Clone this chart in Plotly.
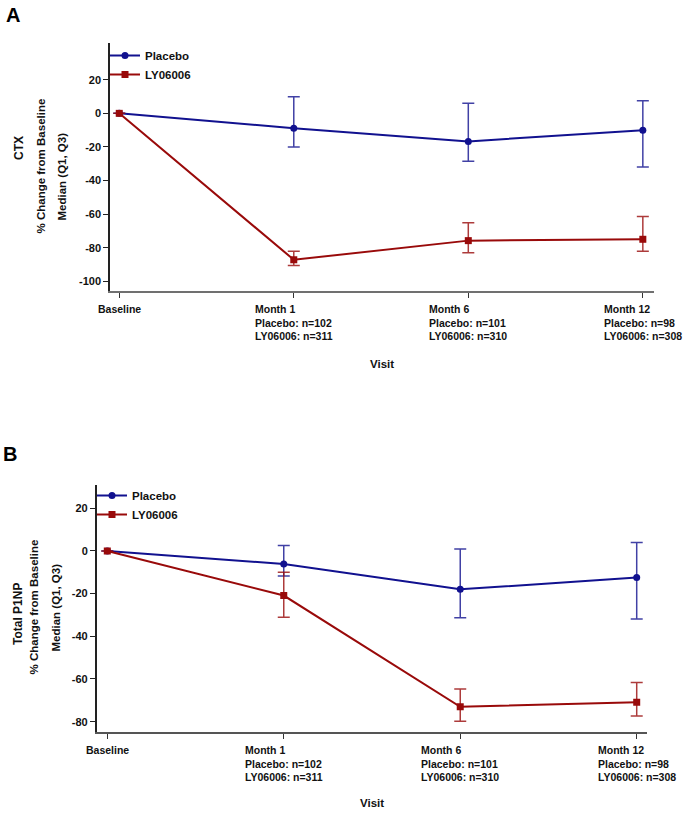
import plotly.graph_objects as go

# ---------------- data ----------------
visits = ["Baseline", "Month 1", "Month 6", "Month 12"]
placebo_n = [None, 102, 101, 98]
ly_n = [None, 311, 310, 308]

ctx_placebo_median = [0, -8.8, -16.7, -10.0]
ctx_placebo_q1 = [None, -20.1, -28.5, -31.9]
ctx_placebo_q3 = [None, 9.9, 6.0, 7.5]
ctx_ly_median = [0, -87.2, -75.8, -75.0]
ctx_ly_q1 = [None, -90.6, -83.0, -82.2]
ctx_ly_q3 = [None, -82.2, -65.1, -61.5]

p1np_placebo_median = [0, -6.1, -18.0, -12.5]
p1np_placebo_q1 = [None, -11.7, -31.3, -31.9]
p1np_placebo_q3 = [None, 2.5, 0.9, 3.9]
p1np_ly_median = [0, -20.9, -73.0, -70.9]
p1np_ly_q1 = [None, -31.1, -79.8, -77.4]
p1np_ly_q3 = [None, -10.0, -64.7, -61.6]

ctx_ticks = [-100, -80, -60, -40, -20, 0, 20]
p1np_ticks = [-80, -60, -40, -20, 0, 20]

# ---------------- style ----------------
W, H = 688, 814
FONT = "Liberation Sans"
BLUE = "#11118f"
RED = "#990a0a"
BLUE_E = "rgba(17,17,143,0.8)"
RED_E = "rgba(153,10,10,0.8)"


def px(x):
    return x / W


def py(y):
    return 1 - y / H


def errs(med, q1, q3):
    plus = [None if b is None else b - m for m, b in zip(med, q3)]
    minus = [None if a is None else m - a for m, a in zip(med, q1)]
    return plus, minus


fig = go.Figure()

panels = [
    dict(xa="x", ya="y", leg="legend",
         data=[("Placebo", ctx_placebo_median, ctx_placebo_q1, ctx_placebo_q3, BLUE, BLUE_E, "circle"),
               ("LY06006", ctx_ly_median, ctx_ly_q1, ctx_ly_q3, RED, RED_E, "square")]),
    dict(xa="x2", ya="y2", leg="legend2",
         data=[("Placebo", p1np_placebo_median, p1np_placebo_q1, p1np_placebo_q3, BLUE, BLUE_E, "circle"),
               ("LY06006", p1np_ly_median, p1np_ly_q1, p1np_ly_q3, RED, RED_E, "square")]),
]

xpos = list(range(len(visits)))
for p in panels:
    for name, med, q1, q3, col, ecol, sym in p["data"]:
        plus, minus = errs(med, q1, q3)
        fig.add_trace(go.Scatter(
            x=xpos, y=med, name=name, mode="lines+markers",
            xaxis=p["xa"], yaxis=p["ya"], legend=p["leg"],
            line=dict(color=col, width=2),
            marker=dict(symbol=sym, size=7, color=col),
            error_y=dict(type="data", symmetric=False, array=plus, arrayminus=minus,
                         color=ecol, thickness=1.5, width=6),
        ))

axis_common = dict(showgrid=False, zeroline=False, showline=True, ticks="outside",
                   ticklen=5, tickwidth=1.2, mirror=False)
tickfont = dict(family=FONT, size=11, color="#111", weight="bold")

# Panel geometry in page pixels
A = dict(x0=110, x1=654, y0=43, y1=291, xr=[-0.053, 3.064], yr=[-105.8, 41.9])
B = dict(x0=96.7, x1=647.3, y0=485, y1=731.7, xr=[-0.060, 3.06], yr=[-84.7, 30.9])

fig.update_layout(
    width=W, height=H, margin=dict(l=0, r=0, t=0, b=0),
    paper_bgcolor="white", plot_bgcolor="white",
    font=dict(family=FONT, color="#111"),
    xaxis=dict(domain=[px(A["x0"]), px(A["x1"])], range=A["xr"], anchor="y",
               tickvals=xpos, showticklabels=False, linecolor="#707070", linewidth=2,
               tickcolor="#333", **axis_common),
    yaxis=dict(domain=[py(A["y1"]), py(A["y0"])], range=A["yr"], anchor="x",
               tickvals=ctx_ticks, ticktext=[str(v) for v in ctx_ticks],
               linecolor="#222", linewidth=1.5, tickcolor="#222",
               tickfont=tickfont, **axis_common),
    xaxis2=dict(domain=[px(B["x0"]), px(B["x1"])], range=B["xr"], anchor="y2",
                tickvals=xpos, showticklabels=False, linecolor="#555", linewidth=2,
                tickcolor="#333", **axis_common),
    yaxis2=dict(domain=[py(B["y1"]), py(B["y0"])], range=B["yr"], anchor="x2",
                tickvals=p1np_ticks, ticktext=[str(v) for v in p1np_ticks],
                linecolor="#222", linewidth=1.5, tickcolor="#222",
                tickfont=tickfont, **axis_common),
    legend=dict(x=px(105), y=py(41), xanchor="left", yanchor="top",
                bgcolor="rgba(0,0,0,0)", tracegroupgap=0,
                font=dict(family=FONT, size=11.5, color="#111", weight="bold")),
    legend2=dict(x=px(92), y=py(481), xanchor="left", yanchor="top",
                 bgcolor="rgba(0,0,0,0)", tracegroupgap=0,
                 font=dict(family=FONT, size=11.5, color="#111", weight="bold")),
    showlegend=True,
)

ann = []
lab_font = dict(family=FONT, size=10.5, color="#111", weight="bold")


def xlabels(xref, ytop):
    for i, v in enumerate(visits):
        if placebo_n[i] is None:
            txt = v
        else:
            txt = f"{v}<br>Placebo: n={placebo_n[i]}<br>LY06006: n={ly_n[i]}"
        ann.append(dict(x=i, xref=xref, y=py(ytop), yref="paper", text=txt,
                        showarrow=False, align="left", xanchor="center", yanchor="top",
                        font=lab_font))


xlabels("x", 301)
xlabels("x2", 742)

# Visit titles
vfont = dict(family=FONT, size=11.5, color="#111", weight="bold")
ann.append(dict(x=px((A["x0"] + A["x1"]) / 2), y=py(364), xref="paper", yref="paper",
                text="Visit", showarrow=False, xanchor="center", yanchor="middle", font=vfont))
ann.append(dict(x=px((B["x0"] + B["x1"]) / 2), y=py(803), xref="paper", yref="paper",
                text="Visit", showarrow=False, xanchor="center", yanchor="middle", font=vfont))

# Y titles
ytitles = [
    ("CTX", 19, 148, 12),
    ("% Change from Baseline", 40, 166.5, 11.5),
    ("Median (Q1, Q3)", 61.5, 177, 11.5),
    ("Total P1NP", 18, 614, 12),
    ("% Change from Baseline", 33.5, 607, 11.5),
    ("Median (Q1, Q3)", 55, 607.5, 11.5),
]
for t, x, y, s in ytitles:
    ann.append(dict(x=px(x), y=py(y), xref="paper", yref="paper", text=t, textangle=-90,
                    showarrow=False, xanchor="center", yanchor="middle",
                    font=dict(family=FONT, size=s, color="#111", weight="bold")))

# Panel letters
ann.append(dict(x=px(13), y=py(15), xref="paper", yref="paper", text="A", showarrow=False,
                xanchor="center", yanchor="middle",
                font=dict(family=FONT, size=20, color="#000", weight="bold")))
ann.append(dict(x=px(10), y=py(453.5), xref="paper", yref="paper", text="B", showarrow=False,
                xanchor="center", yanchor="middle",
                font=dict(family=FONT, size=20, color="#000", weight="bold")))

fig.update_layout(annotations=ann)
fig.write_html("out.html", config={"displayModeBar": False},
               post_script="document.body.style.margin='0';document.body.style.overflow='hidden';")
